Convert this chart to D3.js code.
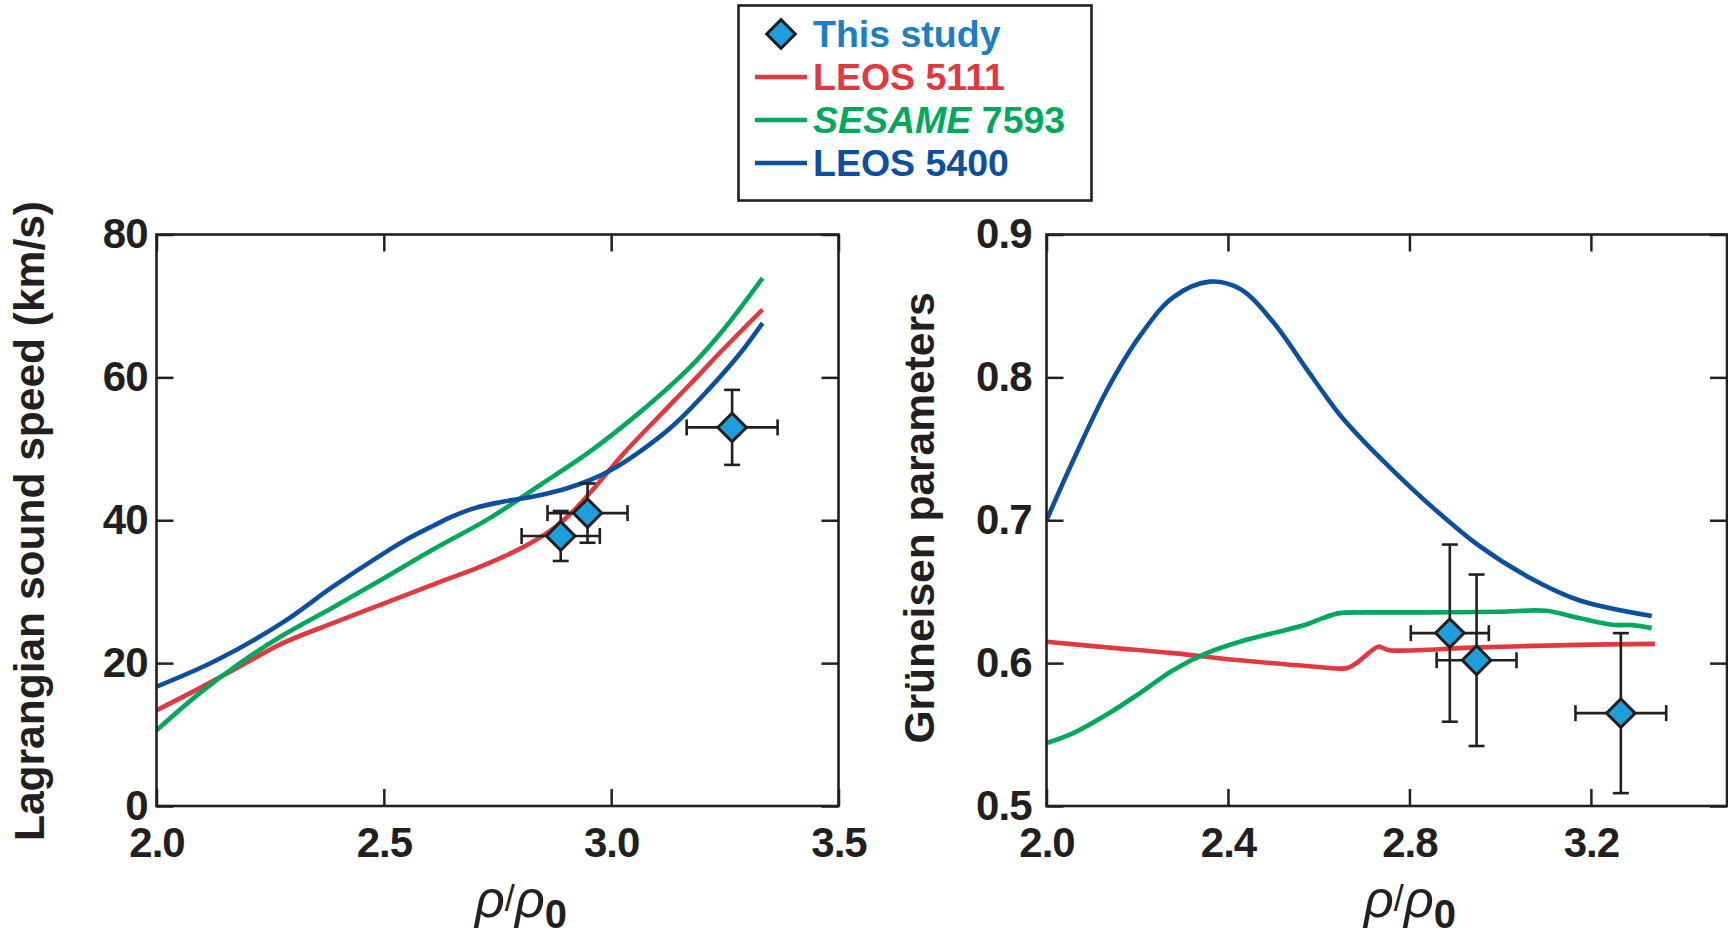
<!DOCTYPE html>
<html>
<head>
<meta charset="utf-8">
<script src="https://cdn.jsdelivr.net/npm/d3@7"></script>
<style>
  html, body { margin: 0; padding: 0; background: #fff; }
  svg { display: block; font-family: "Liberation Sans", Arial, Helvetica, sans-serif; }
  .tick text { font-size: 42px; font-weight: bold; fill: #231f20; letter-spacing: -1px; }
  .tick line { stroke: #231f20; stroke-width: 2.5; }
</style>
</head>
<body>
<svg id="chart" width="1728" height="939"></svg>
<script>
// ---- measured points (this study) ----
const rhoPts = [2.889, 2.948, 3.266];
const rhoErr = [0.086, 0.088, 0.100];
const soundSpeed = [37.8, 41.0, 53.0];
const soundSpeedErr = [3.5, 4.15, 5.25];
const gruneisen = [0.621, 0.602, 0.565];
const gruneisenErr = [0.062, 0.060, 0.056];

// ---- model curves: Lagrangian sound speed (km/s) vs rho/rho0 ----
const leos5111CsX = [2.0, 2.095, 2.179, 2.278, 2.388, 2.498, 2.608, 2.70, 2.76, 2.82, 2.88, 2.92, 2.96, 3.027, 3.100, 3.173, 3.246, 3.333];
const leos5111CsY = [13.4, 16.5, 19.4, 22.8, 25.6, 28.3, 31.0, 33.2, 34.8, 36.7, 39.2, 41.5, 44.3, 49.3, 54.2, 59.0, 63.9, 69.5];
const sesame7593CsX = [2.0, 2.095, 2.179, 2.278, 2.388, 2.498, 2.608, 2.733, 2.843, 2.953, 3.063, 3.173, 3.246, 3.333];
const sesame7593CsY = [10.6, 15.8, 19.8, 23.9, 27.8, 31.8, 35.9, 40.3, 44.9, 49.6, 55.1, 61.4, 66.6, 73.9];
const leos5400CsX = [2.0, 2.132, 2.278, 2.388, 2.498, 2.55, 2.608, 2.65, 2.70, 2.754, 2.80, 2.843, 2.90, 2.953, 3.005, 3.063, 3.137, 3.210, 3.283, 3.333];
const leos5400CsY = [16.7, 20.4, 25.7, 30.7, 35.3, 37.3, 39.2, 40.5, 41.7, 42.5, 43.0, 43.5, 44.4, 45.6, 47.2, 49.6, 53.3, 58.0, 63.3, 67.6];

// ---- model curves: Grüneisen parameter vs rho/rho0 ----
const leos5111GX = [2.0, 2.133, 2.279, 2.426, 2.573, 2.661, 2.683, 2.710, 2.731, 2.742, 2.756, 2.954, 3.174, 3.341];
const leos5111GY = [0.615, 0.611, 0.607, 0.602, 0.598, 0.5965, 0.600, 0.607, 0.6115, 0.6105, 0.609, 0.611, 0.6128, 0.6135];
const sesame7593GX = [2.0, 2.059, 2.133, 2.206, 2.279, 2.353, 2.426, 2.499, 2.573, 2.609, 2.646, 2.700, 2.850, 3.000, 3.101, 3.174, 3.248, 3.292, 3.334];
const sesame7593GY = [0.544, 0.551, 0.564, 0.579, 0.595, 0.607, 0.615, 0.621, 0.627, 0.6315, 0.635, 0.6355, 0.6355, 0.636, 0.6366, 0.6315, 0.6268, 0.6266, 0.6245];
const leos5400GX = [2.0, 2.059, 2.133, 2.206, 2.279, 2.360, 2.426, 2.499, 2.573, 2.620, 2.646, 2.70, 2.760, 2.844, 2.954, 3.064, 3.174, 3.334];
const leos5400GY = [0.700, 0.742, 0.791, 0.829, 0.856, 0.867, 0.862, 0.839, 0.806, 0.785, 0.774, 0.755, 0.736, 0.711, 0.682, 0.660, 0.644, 0.633];

// ---- axis ticks ----
const csXTicks = [2.0, 2.5, 3.0, 3.5];
const csYTicks = [0, 20, 40, 60, 80];
const gXTicks = [2.0, 2.4, 2.8, 3.2];
const gYTicks = [0.5, 0.6, 0.7, 0.8, 0.9];

// ---- legend ----
const legendNames = ["This study", "LEOS 5111", "SESAME 7593", "LEOS 5400"];
const colors = {
  study: "#1d9fdb", studyText: "#1a80c3",
  leos5111: "#e03a40", sesame: "#00a85d", leos5400: "#0b50a0",
  ink: "#231f20"
};

const svg = d3.select("#chart");
svg.append("rect").attr("width", 1728).attr("height", 939).attr("fill", "#fff");

const zip = (xs, ys) => xs.map((x, i) => [x, ys[i]]);

function panel(opts) {
  const { x, y, xTicks, yTicks, xFmt, yFmt, curves, ptsY, ptsYErr, capW, yPad } = opts;
  const g = svg.append("g");
  const [x0, x1] = x.range();
  const [y0, y1] = y.range(); // y0 bottom, y1 top

  const clip = "clip" + Math.round(x0);
  svg.append("clipPath").attr("id", clip)
    .append("rect").attr("x", x0).attr("y", y1).attr("width", x1 - x0).attr("height", y0 - y1);

  // model curves
  const line = d3.line().x(d => x(d[0])).y(d => y(d[1])).curve(d3.curveCatmullRom.alpha(0.5));
  curves.forEach(c => {
    g.append("path").datum(zip(c.xs, c.ys))
      .attr("d", line).attr("fill", "none")
      .attr("stroke", c.color).attr("stroke-width", 4.6)
      .attr("stroke-linejoin", "round")
      .attr("clip-path", `url(#${clip})`);
  });

  // error bars
  const eb = g.append("g").attr("stroke", colors.ink).attr("stroke-width", 2.6).attr("fill", "none");
  rhoPts.forEach((r, i) => {
    const cx = x(r), cy = y(ptsY[i]);
    const xl = x(r - rhoErr[i]), xr = x(r + rhoErr[i]);
    const yt = y(ptsY[i] + ptsYErr[i]), yb = y(ptsY[i] - ptsYErr[i]);
    eb.append("line").attr("x1", xl).attr("x2", xr).attr("y1", cy).attr("y2", cy);
    eb.append("line").attr("x1", cx).attr("x2", cx).attr("y1", yt).attr("y2", yb);
    eb.append("line").attr("x1", xl).attr("x2", xl).attr("y1", cy - capW).attr("y2", cy + capW);
    eb.append("line").attr("x1", xr).attr("x2", xr).attr("y1", cy - capW).attr("y2", cy + capW);
    eb.append("line").attr("x1", cx - capW).attr("x2", cx + capW).attr("y1", yt).attr("y2", yt);
    eb.append("line").attr("x1", cx - capW).attr("x2", cx + capW).attr("y1", yb).attr("y2", yb);
  });

  // diamonds
  const diamond = d3.symbol().type(d3.symbolSquare).size(410);
  rhoPts.forEach((r, i) => {
    g.append("path").attr("d", diamond())
      .attr("transform", `translate(${x(r)},${y(ptsY[i])}) rotate(45)`)
      .attr("fill", colors.study).attr("stroke", colors.ink).attr("stroke-width", 3);
  });

  // axes with inward ticks on all four sides
  const tick = 17;
  const ax = [
    g.append("g").attr("transform", `translate(0,${y0})`)
      .call(d3.axisBottom(x).tickValues(xTicks).tickSize(-tick).tickPadding(21).tickFormat(xFmt)),
    g.append("g").attr("transform", `translate(0,${y1})`)
      .call(d3.axisTop(x).tickValues(xTicks).tickSize(-tick).tickFormat("")),
    g.append("g").attr("transform", `translate(${x0},0)`)
      .call(d3.axisLeft(y).tickValues(yTicks).tickSize(-tick).tickPadding(yPad).tickFormat(yFmt)),
    g.append("g").attr("transform", `translate(${x1},0)`)
      .call(d3.axisRight(y).tickValues(yTicks).tickSize(-tick).tickFormat(""))
  ];
  ax.forEach(a => { a.select(".domain").remove(); a.attr("font-family", null).attr("font-size", null); });

  g.append("rect").attr("x", x0).attr("y", y1).attr("width", x1 - x0).attr("height", y0 - y1)
    .attr("fill", "none").attr("stroke", colors.ink).attr("stroke-width", 2.6);
  return g;
}

// left panel: sound speed
const xCs = d3.scaleLinear().domain([2.0, 3.5]).range([156.5, 838.5]);
const yCs = d3.scaleLinear().domain([0, 80]).range([806, 234.5]);
panel({
  x: xCs, y: yCs, xTicks: csXTicks, yTicks: csYTicks,
  xFmt: d3.format(".1f"), yFmt: d3.format("d"),
  curves: [
    { xs: leos5111CsX, ys: leos5111CsY, color: colors.leos5111 },
    { xs: sesame7593CsX, ys: sesame7593CsY, color: colors.sesame },
    { xs: leos5400CsX, ys: leos5400CsY, color: colors.leos5400 }
  ],
  ptsY: soundSpeed, ptsYErr: soundSpeedErr, capW: 8, yPad: 9
});

// right panel: Grüneisen parameter
const xG = d3.scaleLinear().domain([2.0, 3.5]).range([1046.5, 1727]);
const yG = d3.scaleLinear().domain([0.5, 0.9]).range([806, 234.5]);
panel({
  x: xG, y: yG, xTicks: gXTicks, yTicks: gYTicks,
  xFmt: d3.format(".1f"), yFmt: d3.format(".1f"),
  curves: [
    { xs: leos5111GX, ys: leos5111GY, color: colors.leos5111 },
    { xs: sesame7593GX, ys: sesame7593GY, color: colors.sesame },
    { xs: leos5400GX, ys: leos5400GY, color: colors.leos5400 }
  ],
  ptsY: gruneisen, ptsYErr: gruneisenErr, capW: 8, yPad: 15
});

// axis titles
svg.append("text").attr("transform", "translate(44,521) rotate(-90)")
  .attr("text-anchor", "middle").attr("font-size", 42.5).attr("font-weight", "bold")
  .attr("fill", colors.ink).text("Lagrangian sound speed (km/s)");
svg.append("text").attr("transform", "translate(934,518) rotate(-90)")
  .attr("text-anchor", "middle").attr("font-size", 42.5).attr("font-weight", "bold")
  .attr("fill", colors.ink).text("Grüneisen parameters");

function rhoLabel(cx) {
  const t = svg.append("text").attr("x", cx).attr("y", 917).attr("text-anchor", "middle")
    .attr("fill", colors.ink);
  t.append("tspan").attr("font-size", 52).attr("font-style", "italic").text("ρ");
  t.append("tspan").attr("font-size", 36).attr("dy", -6).text("/");
  t.append("tspan").attr("font-size", 52).attr("font-style", "italic").attr("dy", 6).text("ρ");
  t.append("tspan").attr("font-size", 40).attr("font-weight", "bold").attr("dy", 11).text("0");
}
rhoLabel(521);
rhoLabel(1410);

// legend
const lg = svg.append("g");
lg.append("rect").attr("x", 738.5).attr("y", 5.5).attr("width", 353).attr("height", 195)
  .attr("fill", "#fff").attr("stroke", colors.ink).attr("stroke-width", 2.6);
const baselines = [47, 90, 133, 176];
const legendColors = [colors.studyText, colors.leos5111, colors.sesame, colors.leos5400];
const lineColors = [null, colors.leos5111, colors.sesame, colors.leos5400];
legendNames.forEach((name, i) => {
  const by = baselines[i];
  if (i === 0) {
    lg.append("path").attr("d", d3.symbol().type(d3.symbolSquare).size(410)())
      .attr("transform", `translate(781,${by - 13}) rotate(45)`)
      .attr("fill", colors.study).attr("stroke", colors.ink).attr("stroke-width", 3);
  } else {
    lg.append("line").attr("x1", 755).attr("x2", 807).attr("y1", by - 13).attr("y2", by - 13)
      .attr("stroke", lineColors[i]).attr("stroke-width", 4.6);
  }
  const t = lg.append("text").attr("x", 813).attr("y", by).attr("font-size", 37.5)
    .attr("font-weight", "bold").attr("fill", legendColors[i]);
  if (name.startsWith("SESAME")) {
    const parts = name.split(" ");
    t.append("tspan").attr("font-style", "italic").text(parts[0]);
    t.append("tspan").text(" " + parts[1]);
  } else {
    t.text(name);
  }
});
</script>
</body>
</html>
